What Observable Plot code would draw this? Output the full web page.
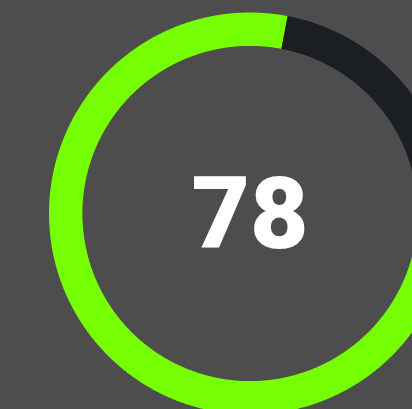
<!DOCTYPE html>
<html>
<head>
<meta charset="utf-8">
<script src="https://cdn.jsdelivr.net/npm/d3@7"></script>
<script src="https://cdn.jsdelivr.net/npm/@observablehq/plot@0.6"></script>
<style>
  html, body { margin: 0; padding: 0; background: #4d4d4d; overflow: hidden; }
  #chart svg { display: block; }
</style>
</head>
<body>
<div id="chart"></div>
<script>
// Data
const segmentNames = ["value", "remainder"];
const gaugeValue = [78];
const gaugeMax = [100];
const segmentColors = ["#76ff03", "#1b1f24"];

const value = gaugeValue[0];
const max = gaugeMax[0];
const segments = [
  {name: segmentNames[0], from: 0, to: value},
  {name: segmentNames[1], from: value, to: max}
];

// sample arc path in unit-circle data space (angle measured clockwise from 3 o'clock)
const pts = [];
for (const s of segments) {
  const a0 = s.from / max * 2 * Math.PI, a1 = s.to / max * 2 * Math.PI;
  const n = Math.max(2, Math.ceil((a1 - a0) / (Math.PI / 720)));
  for (let i = 0; i <= n; i++) {
    const a = a0 + (a1 - a0) * i / n;
    pts.push({seg: s.name, x: Math.cos(a), y: -Math.sin(a)});
  }
}

const W = 412, H = 409;
const cx = 249.5, cy = 213, rMid = 184.3, thick = 33.4;

const chart = Plot.plot({
  width: W,
  height: H,
  margin: 0,
  style: {background: "#4d4d4d", overflow: "hidden"},
  x: {domain: [-1, 1], range: [cx - rMid, cx + rMid], axis: null},
  y: {domain: [-1, 1], range: [cy + rMid, cy - rMid], axis: null},
  color: {domain: segmentNames, range: segmentColors},
  marks: [
    Plot.line(pts, {x: "x", y: "y", z: "seg", stroke: "seg", strokeWidth: thick, strokeLinecap: "butt", strokeLinejoin: "round"}),
    Plot.text(gaugeValue, {x: () => 0, y: () => 0, dy: 2, text: d => String(d), fill: "white",
      fontSize: 101, fontWeight: 900, fontFamily: "Roboto", textAnchor: "middle", lineAnchor: "middle"})
  ]
});
document.getElementById("chart").appendChild(chart);
</script>
</body>
</html>
